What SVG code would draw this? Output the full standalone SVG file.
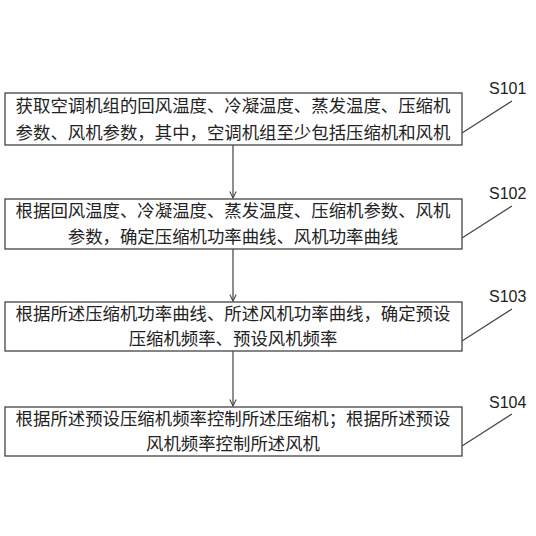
<svg xmlns="http://www.w3.org/2000/svg" width="536" height="536" viewBox="0 0 536 536">
<style>
.box{fill:#fff;stroke:#444;stroke-width:1.3}
.t{font-family:"Noto Sans CJK SC","Noto Sans",sans-serif;font-size:17.4px;fill:#222;text-anchor:middle}
.lbl{font-family:"Liberation Sans",Arial,sans-serif;font-size:16px;fill:#222}
.ln{stroke:#444;stroke-width:1.2;fill:none}
</style>
<defs>
<marker id="ah" viewBox="0 0 10 10" refX="9" refY="5" markerWidth="8" markerHeight="8" markerUnits="userSpaceOnUse" orient="auto">
<path d="M1,1 L9,5 L1,9" fill="none" stroke="#444" stroke-width="1.3"/>
</marker>
</defs>
<rect width="536" height="536" fill="#fff"/>
<g id="connectors">
<line class="ln" x1="233" y1="145" x2="233" y2="198" marker-end="url(#ah)"/>
<line class="ln" x1="233" y1="249" x2="233" y2="301" marker-end="url(#ah)"/>
<line class="ln" x1="233" y1="351" x2="233" y2="406" marker-end="url(#ah)"/>
<line class="ln" x1="462" y1="133" x2="512" y2="101"/>
<line class="ln" x1="462" y1="238" x2="512" y2="206"/>
<line class="ln" x1="462" y1="341" x2="512" y2="309"/>
<line class="ln" x1="462" y1="446" x2="512" y2="414"/>
</g>
<g id="S101">
<rect class="box" x="5" y="93" width="457" height="52"/>
<text class="t" x="233" y="112">获取空调机组的回风温度、冷凝温度、蒸发温度、压缩机</text>
<text class="t" x="233" y="139">参数、风机参数，其中，空调机组至少包括压缩机和风机</text>
<text class="lbl" x="489" y="94">S101</text>
</g>
<g id="S102">
<rect class="box" x="5" y="199" width="457" height="50"/>
<text class="t" x="233" y="217">根据回风温度、冷凝温度、蒸发温度、压缩机参数、风机</text>
<text class="t" x="233" y="243">参数，确定压缩机功率曲线、风机功率曲线</text>
<text class="lbl" x="489" y="199">S102</text>
</g>
<g id="S103">
<rect class="box" x="5" y="302" width="457" height="49"/>
<text class="t" x="233" y="320">根据所述压缩机功率曲线、所述风机功率曲线，确定预设</text>
<text class="t" x="233" y="345">压缩机频率、预设风机频率</text>
<text class="lbl" x="489" y="302">S103</text>
</g>
<g id="S104">
<rect class="box" x="5" y="407" width="457" height="49"/>
<text class="t" x="233" y="425">根据所述预设压缩机频率控制所述压缩机；根据所述预设</text>
<text class="t" x="233" y="450">风机频率控制所述风机</text>
<text class="lbl" x="489" y="408">S104</text>
</g>
</svg>
